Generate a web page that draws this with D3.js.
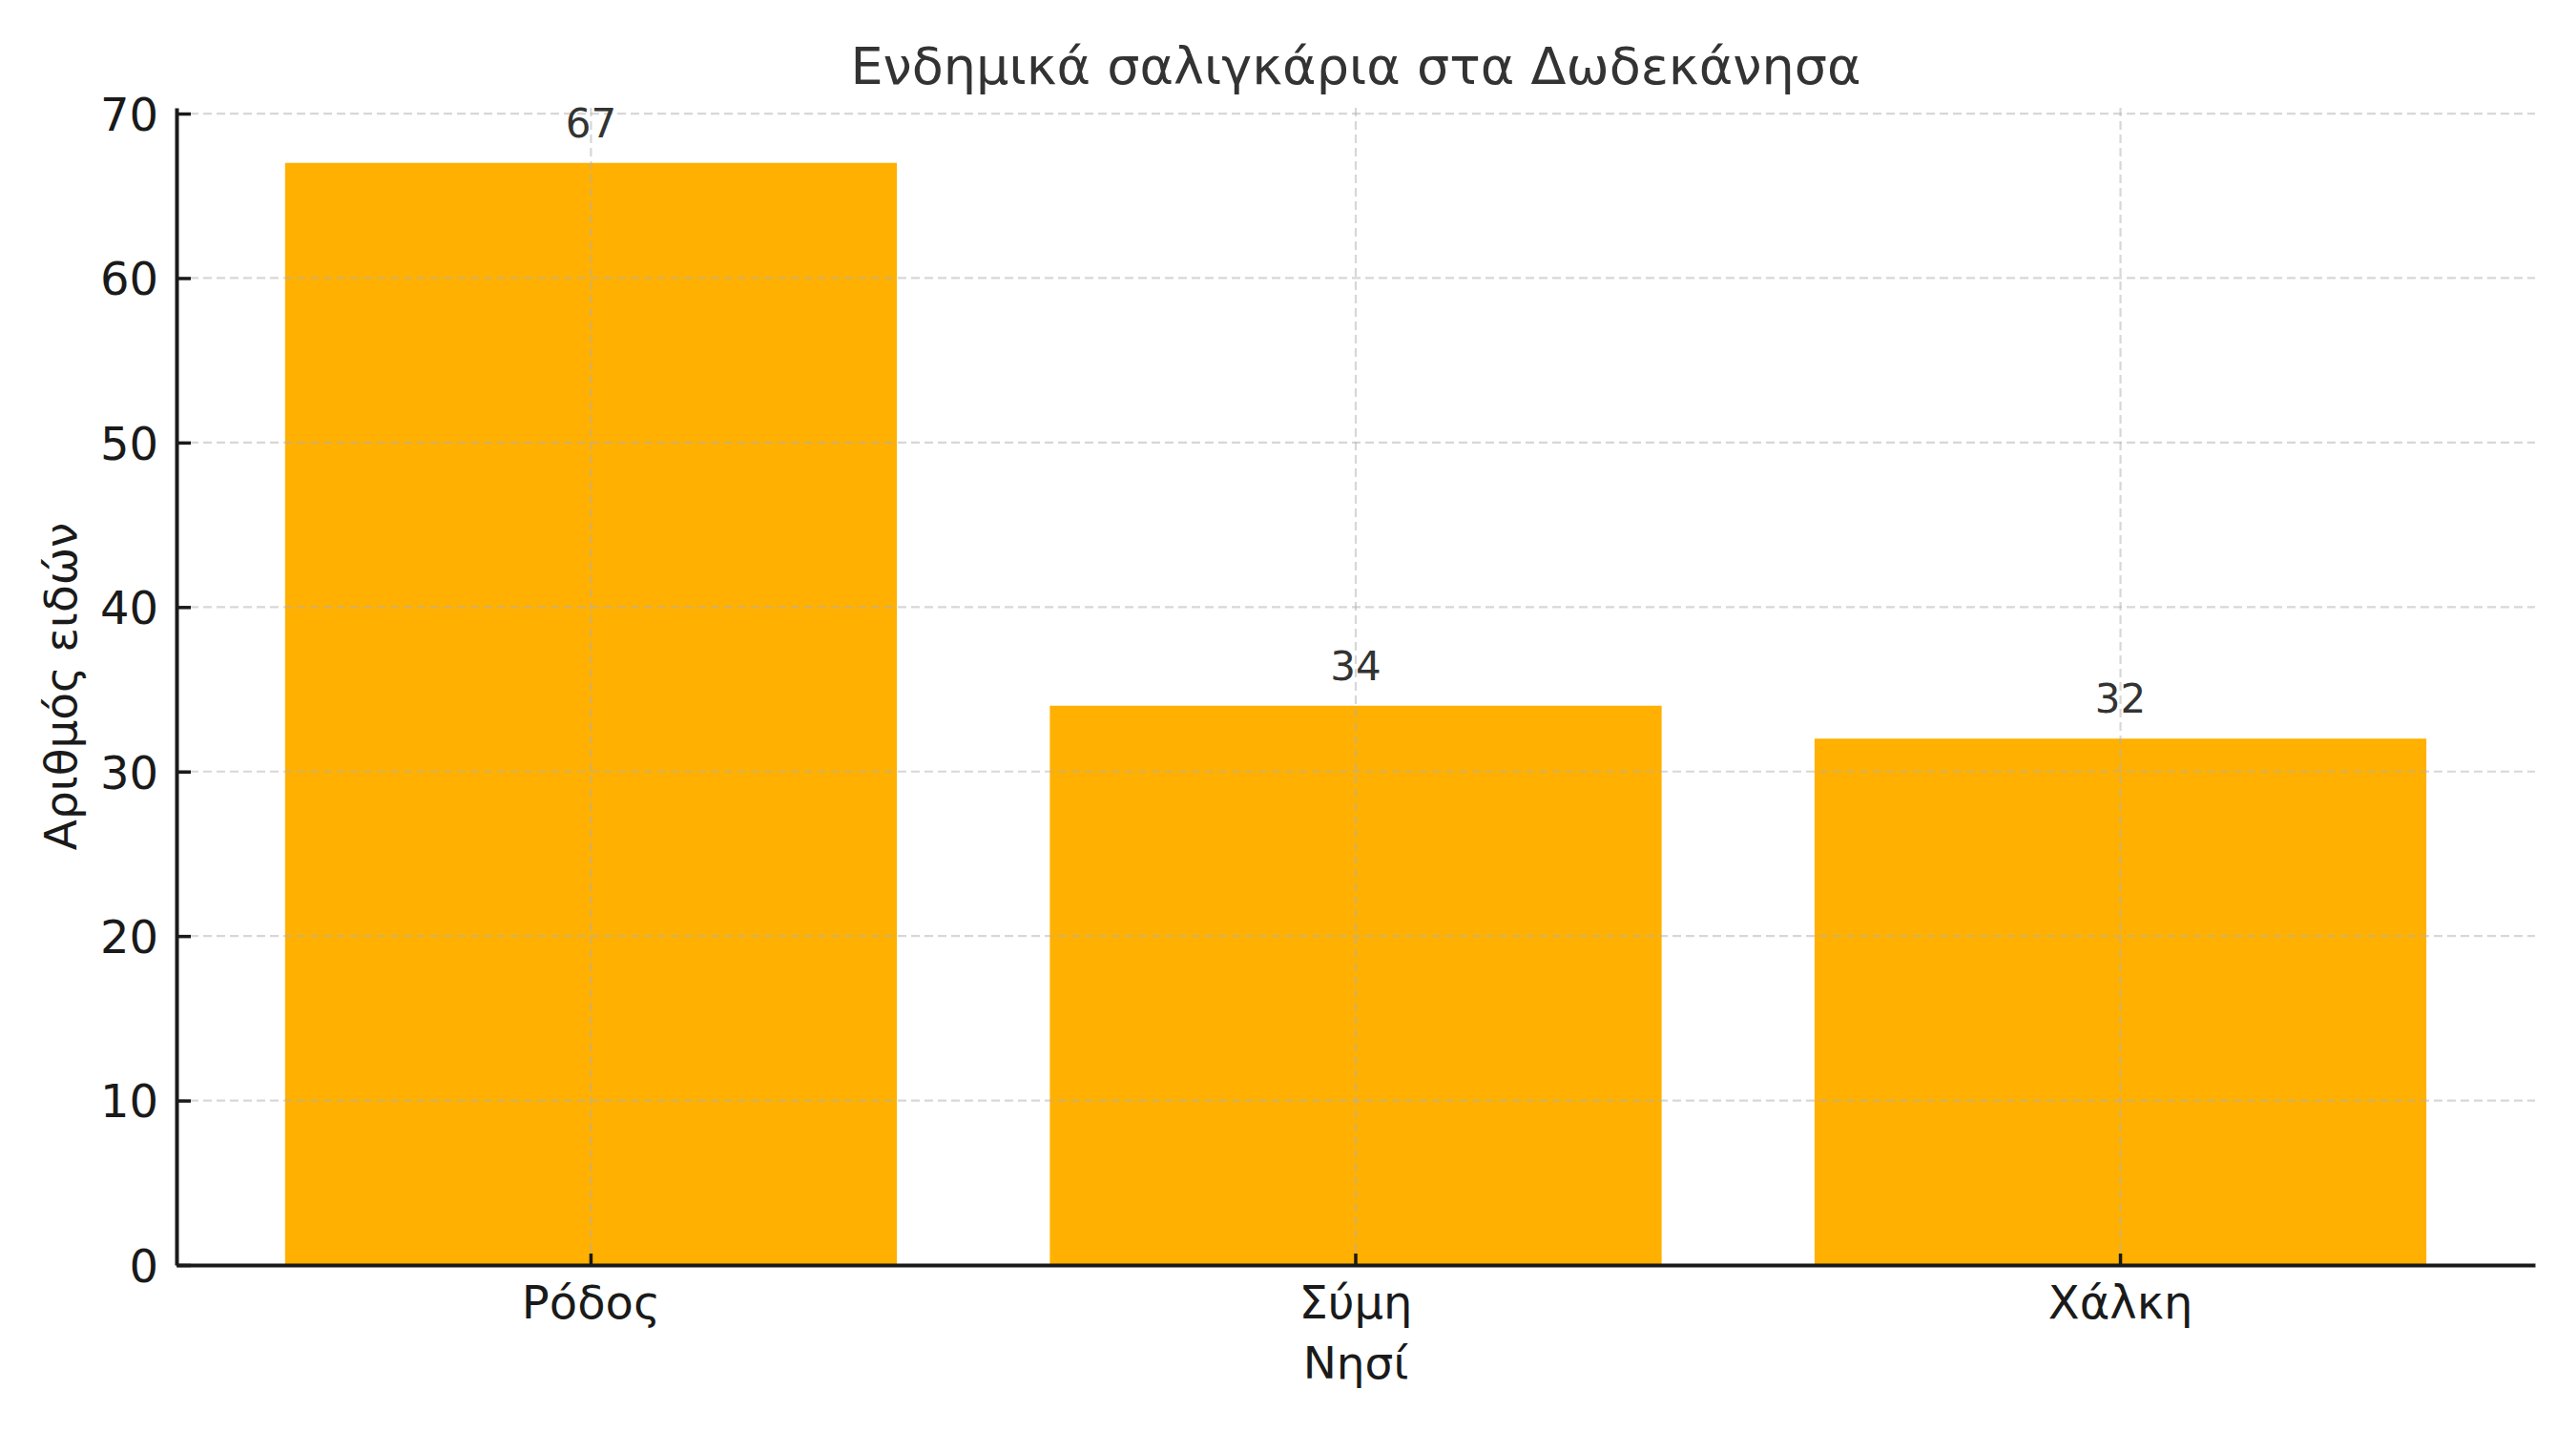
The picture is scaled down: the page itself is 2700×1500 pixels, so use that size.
<!DOCTYPE html>
<html>
<head>
<meta charset="utf-8">
<script src="https://cdn.jsdelivr.net/npm/d3@7"></script>
<style>
  body { margin: 0; background: #fff; }
  text { font-family: "DejaVu Sans", sans-serif; }
</style>
</head>
<body>
<svg id="chart" width="2700" height="1500"></svg>
<script>
// Data
const islands = ["Ρόδος", "Σύμη", "Χάλκη"];
const species = [67, 34, 32];
const yTicks = [0, 10, 20, 30, 40, 50, 60, 70];

const titleText = "Ενδημικά σαλιγκάρια στα Δωδεκάνησα";
const xLabel = "Νησί";
const yLabel = "Αριθμός ειδών";

const barColor = "#ffb000";
const margin = { left: 185, right: 43, top: 113, bottom: 174 };
const W = 2700, H = 1500;

const svg = d3.select("#chart");

const x = d3.scaleBand()
    .domain(islands)
    .range([margin.left, W - margin.right])
    .paddingInner(0.2)
    .paddingOuter(0.142);

const y = d3.scaleLinear()
    .domain([0, 70.35])
    .range([H - margin.bottom, margin.top]);

// Bars
svg.append("g")
    .selectAll("rect")
    .data(species)
    .join("rect")
    .attr("x", (d, i) => x(islands[i]))
    .attr("y", d => y(d))
    .attr("width", x.bandwidth())
    .attr("height", d => y(0) - y(d))
    .attr("fill", barColor);

// Grid (drawn over bars)
const grid = svg.append("g")
    .attr("stroke", "#b0b0b0")
    .attr("stroke-opacity", 0.5)
    .attr("stroke-width", 2.2)
    .attr("stroke-dasharray", "9,5");

grid.selectAll("line.h")
    .data(yTicks)
    .join("line")
    .attr("class", "h")
    .attr("x1", margin.left)
    .attr("x2", W - margin.right)
    .attr("y1", d => y(d))
    .attr("y2", d => y(d));

grid.selectAll("line.v")
    .data(islands)
    .join("line")
    .attr("class", "v")
    .attr("x1", d => x(d) + x.bandwidth() / 2)
    .attr("x2", d => x(d) + x.bandwidth() / 2)
    .attr("y1", y(0))
    .attr("y2", margin.top);

// Axes
const yAxis = svg.append("g")
    .attr("transform", `translate(${margin.left},0)`)
    .call(d3.axisLeft(y).tickValues(yTicks).tickSize(-15).tickPadding(19).tickSizeOuter(0));

const xAxis = svg.append("g")
    .attr("transform", `translate(0,${y(0)})`)
    .call(d3.axisBottom(x).tickSize(-12).tickPadding(22).tickSizeOuter(0));

[yAxis, xAxis].forEach(ax => {
    ax.select(".domain").attr("stroke", "#1a1a1a").attr("stroke-width", 4);
    ax.selectAll(".tick line").attr("stroke", "#1a1a1a").attr("stroke-width", 3.5);
    ax.selectAll(".tick text")
        .attr("fill", "#1a1a1a")
        .style("font-family", "DejaVu Sans")
        .style("font-size", "48px");
});
xAxis.selectAll(".tick text").attr("dy", "0.71em");
yAxis.selectAll(".tick text").attr("dy", "0.36em");

// Value labels
svg.append("g")
    .selectAll("text")
    .data(species)
    .join("text")
    .attr("x", (d, i) => x(islands[i]) + x.bandwidth() / 2)
    .attr("y", d => y(d + 1) - 10)
    .attr("text-anchor", "middle")
    .attr("fill", "#333")
    .style("font-size", "42px")
    .text(d => d);

// Title and axis labels
svg.append("text")
    .attr("x", x(islands[1]) + x.bandwidth() / 2)
    .attr("y", 88)
    .attr("text-anchor", "middle")
    .attr("fill", "#333")
    .style("font-size", "54px")
    .text(titleText);

svg.append("text")
    .attr("x", x(islands[1]) + x.bandwidth() / 2)
    .attr("y", 1445)
    .attr("text-anchor", "middle")
    .attr("fill", "#1a1a1a")
    .style("font-size", "47px")
    .text(xLabel);

svg.append("text")
    .attr("transform", `translate(80,${(y(0) + margin.top) / 2}) rotate(-90)`)
    .attr("text-anchor", "middle")
    .attr("fill", "#1a1a1a")
    .style("font-size", "47px")
    .text(yLabel);
</script>
</body>
</html>
